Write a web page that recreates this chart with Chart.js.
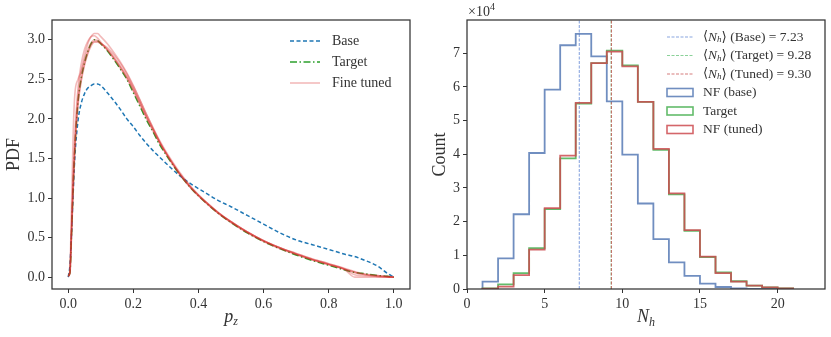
<!DOCTYPE html>
<html>
<head>
<meta charset="utf-8">
<script src="https://cdn.jsdelivr.net/npm/chart.js@4.4.1/dist/chart.umd.min.js"></script>
<style>
html, body { margin: 0; padding: 0; background: #fff; }
#wrap { position: relative; width: 831px; height: 337px; }
canvas { position: absolute; top: 0; }
</style>
</head>
<body>
<div id="wrap">
  <canvas id="pdfChart" width="415" height="337" style="left:0px"></canvas>
  <canvas id="histChart" width="416" height="337" style="left:415px"></canvas>
</div>
<script>
// ---- left panel: PDF of p_z ----
const pz = [0, 0.005, 0.01, 0.015, 0.02, 0.03, 0.04, 0.05, 0.06, 0.07, 0.08, 0.09, 0.1, 0.12, 0.14, 0.16, 0.18, 0.2, 0.22, 0.24,
            0.26, 0.28, 0.3, 0.34, 0.38, 0.42, 0.46, 0.5, 0.55, 0.6, 0.65, 0.7, 0.75, 0.8, 0.85, 0.88, 0.9, 0.95, 0.98, 1.0];
const pdfBase = [0, 0.15, 0.55, 1.05, 1.5, 1.98, 2.2, 2.32, 2.39, 2.42, 2.44, 2.44, 2.42, 2.33, 2.23, 2.12, 2.0, 1.9, 1.79, 1.69,
                 1.6, 1.52, 1.44, 1.29, 1.17, 1.07, 0.97, 0.89, 0.78, 0.67, 0.56, 0.47, 0.41, 0.35, 0.29, 0.26, 0.23, 0.14, 0.05, 0];
const pdfTarget = [0.02, 0.05, 0.55, 1.15, 1.62, 2.22, 2.52, 2.71, 2.85, 2.95, 3.0, 2.99, 2.95, 2.86, 2.75, 2.63, 2.5, 2.33, 2.16, 1.99,
                   1.84, 1.68, 1.55, 1.31, 1.11, 0.95, 0.81, 0.69, 0.56, 0.45, 0.36, 0.28, 0.21, 0.15, 0.09, 0.06, 0.05, 0.02, 0.01, 0];
// several fine tuned runs
const pdfTuned1 = [0.02, 0.08, 0.6, 1.2, 1.7, 2.3, 2.6, 2.8, 2.95, 3.04, 3.08, 3.08, 3.04, 2.95, 2.84, 2.72, 2.58, 2.42, 2.24, 2.06,
                   1.89, 1.73, 1.59, 1.34, 1.13, 0.96, 0.82, 0.7, 0.57, 0.46, 0.37, 0.3, 0.23, 0.17, 0.11, 0.07, 0.05, 0.02, 0.01, 0];
const pdfTuned2 = [0, 0.1, 0.9, 1.8, 2.3, 2.5, 2.6, 2.75, 2.88, 2.96, 3.0, 2.99, 2.96, 2.88, 2.78, 2.66, 2.53, 2.37, 2.2, 2.03,
                   1.87, 1.71, 1.57, 1.32, 1.12, 0.96, 0.82, 0.7, 0.57, 0.46, 0.37, 0.29, 0.22, 0.16, 0.1, 0.06, 0.04, 0.01, 0, 0];
const pdfTuned3 = [0.02, 0.04, 0.5, 1.1, 1.58, 2.2, 2.5, 2.7, 2.84, 2.94, 2.98, 2.98, 2.95, 2.87, 2.77, 2.66, 2.53, 2.38, 2.21, 2.03,
                   1.87, 1.71, 1.57, 1.32, 1.12, 0.96, 0.82, 0.7, 0.57, 0.46, 0.37, 0.29, 0.22, 0.16, 0.09, 0, 0, 0, 0, 0];
const pdfTuned4 = [0.02, 0.05, 0.55, 1.12, 1.6, 2.18, 2.48, 2.68, 2.82, 2.92, 2.97, 2.97, 2.95, 2.9, 2.81, 2.7, 2.57, 2.41, 2.24, 2.06,
                   1.89, 1.72, 1.57, 1.32, 1.11, 0.95, 0.81, 0.7, 0.57, 0.46, 0.37, 0.3, 0.23, 0.17, 0.1, 0.03, 0.02, 0.01, 0, 0];
const pdfTuned5 = [0.01, 0.06, 0.65, 1.3, 1.78, 2.4, 2.7, 2.88, 2.98, 3.04, 3.05, 3.02, 2.97, 2.87, 2.76, 2.64, 2.51, 2.35, 2.18, 2.01,
                   1.85, 1.7, 1.56, 1.31, 1.11, 0.95, 0.81, 0.69, 0.56, 0.45, 0.36, 0.29, 0.22, 0.16, 0.1, 0.06, 0.04, 0.02, 0.01, 0];
const pdfTicksX = [0, 0.2, 0.4, 0.6, 0.8, 1.0];
const pdfTicksY = [0, 0.5, 1.0, 1.5, 2.0, 2.5, 3.0];

// ---- right panel: histogram of N_h ----
const binEdges = [1, 2, 3, 4, 5, 6, 7, 8, 9, 10, 11, 12, 13, 14, 15, 16, 17, 18, 19, 20, 21];
const countsBase = [2200, 9100, 22200, 40400, 59200, 72400, 75800, 69100, 55700, 39900,
                    25400, 14800, 7900, 3900, 1600, 600, 200, 50, 0, 0];
const countsTarget = [200, 1400, 4700, 12100, 23700, 38800, 55100, 67100, 70800, 66400,
                      55600, 41300, 28100, 17300, 9500, 4900, 2300, 1000, 500, 200];
const countsTuned = [100, 700, 4100, 11700, 24000, 39600, 55300, 67100, 70500, 66100,
                     55600, 41600, 28400, 17500, 9600, 4700, 2200, 1000, 500, 200];
const meanBase = 7.23, meanTarget = 9.28, meanTuned = 9.30;
const histTicksX = [0, 5, 10, 15, 20];
const histTicksY = [0, 10000, 20000, 30000, 40000, 50000, 60000, 70000];

const SERIF = '"Liberation Serif", "DejaVu Serif", serif';
const TXT = '#333';

function xy(xs, ys) { return xs.map((x, i) => ({ x: x, y: ys[i] })); }
function stepPoints(edges, counts) {
    const pts = [{ x: edges[0], y: 0 }];
    counts.forEach((c, i) => pts.push({ x: edges[i + 1], y: c }));
    pts.push({ x: edges[edges.length - 1], y: 0 });
    return pts;
}
function fixTicks(list) {
    return function (scale) { scale.ticks = list.map(v => ({ value: v })); };
}
// draw runs of text with different fonts / baseline offsets
function runsWidth(ctx, runs) {
    let w = 0;
    runs.forEach(r => { ctx.font = r[1]; w += ctx.measureText(r[0]).width; });
    return w;
}
function drawRuns(ctx, runs, x, y) {
    runs.forEach(r => {
        ctx.font = r[1];
        ctx.fillText(r[0], x, y + (r[2] || 0));
        x += ctx.measureText(r[0]).width;
    });
}

const framePlugin = {
    id: 'frame',
    afterDatasetsDraw(chart) {
        const a = chart.chartArea, ctx = chart.ctx;
        ctx.save();
        ctx.strokeStyle = '#333';
        ctx.lineWidth = 1.25;
        ctx.strokeRect(a.left, a.top, a.right - a.left, a.bottom - a.top);
        ctx.restore();
    }
};

function legendPlugin(items, x0, y0, rowH, sampleW, textGap) {
    return {
        id: 'customLegend',
        afterDraw(chart) {
            const ctx = chart.ctx;
            ctx.save();
            ctx.textBaseline = 'middle';
            items.forEach((it, i) => {
                const y = y0 + i * rowH;
                ctx.strokeStyle = it.color;
                ctx.lineWidth = it.width;
                ctx.setLineDash(it.dash || []);
                if (it.box) {
                    ctx.strokeRect(x0, y - 4, sampleW, 8);
                } else {
                    ctx.beginPath();
                    ctx.moveTo(x0, y);
                    ctx.lineTo(x0 + sampleW, y);
                    ctx.stroke();
                }
                ctx.setLineDash([]);
                ctx.fillStyle = TXT;
                drawRuns(ctx, it.runs, x0 + sampleW + textGap, y);
            });
            ctx.restore();
        }
    };
}

function axisTitles(xRuns, yText, xTitleY, yTitleX) {
    return {
        id: 'axisTitles',
        afterDraw(chart) {
            const ctx = chart.ctx, a = chart.chartArea;
            ctx.save();
            ctx.fillStyle = TXT;
            ctx.textBaseline = 'alphabetic';
            const w = runsWidth(ctx, xRuns);
            drawRuns(ctx, xRuns, (a.left + a.right) / 2 - w / 2, xTitleY);
            ctx.translate(yTitleX, (a.top + a.bottom) / 2);
            ctx.rotate(-Math.PI / 2);
            ctx.font = '18px ' + SERIF;
            ctx.textAlign = 'center';
            ctx.textBaseline = 'middle';
            ctx.fillText(yText, 0, 0);
            ctx.restore();
        }
    };
}

function axisOpts(min, max, ticks, fmt, fit) {
    return {
        type: 'linear',
        min: min,
        max: max,
        afterBuildTicks: fixTicks(ticks),
        afterFit: fit,
        border: { display: false },
        grid: { drawOnChartArea: false, drawTicks: true, tickLength: 4, tickColor: '#333', tickWidth: 1 },
        ticks: { color: TXT, font: { family: SERIF, size: 14 }, padding: 3, callback: fmt, maxRotation: 0, autoSkip: false }
    };
}

const tunedColor = 'rgba(214,39,40,0.32)';
const tunedSets = [pdfTuned1, pdfTuned2, pdfTuned3, pdfTuned4, pdfTuned5].map((ys, i) => ({
    label: i === 0 ? 'Fine tuned' : '',
    data: xy(pz, ys),
    borderColor: tunedColor,
    borderWidth: 1.6,
    pointRadius: 0,
    order: 1,
    cubicInterpolationMode: 'monotone'
}));

new Chart(document.getElementById('pdfChart'), {
    type: 'line',
    data: {
        datasets: [
            { label: 'Base', data: xy(pz, pdfBase), borderColor: '#1f77b4', borderWidth: 1.5, borderDash: [4, 2.5],
              pointRadius: 0, order: 3, cubicInterpolationMode: 'monotone' },
            { label: 'Target', data: xy(pz, pdfTarget), borderColor: '#2ca02c', borderWidth: 1.5, borderDash: [7, 2.5, 1.5, 2.5],
              pointRadius: 0, order: 2, cubicInterpolationMode: 'monotone' }
        ].concat(tunedSets)
    },
    options: {
        responsive: false,
        animation: false,
        devicePixelRatio: 1,
        layout: { padding: { top: 20, right: 5, left: 0, bottom: 0 } },
        plugins: { legend: { display: false }, tooltip: { enabled: false } },
        scales: {
            x: axisOpts(-0.05, 1.05, pdfTicksX, v => v.toFixed(1), s => { s.height = 48; }),
            y: axisOpts(-0.15, 3.25, pdfTicksY, v => v.toFixed(1), s => { s.width = 52; })
        }
    },
    plugins: [
        framePlugin,
        legendPlugin([
            { color: '#1f77b4', width: 1.5, dash: [4, 2.5], runs: [['Base', '14px ' + SERIF]] },
            { color: '#2ca02c', width: 1.5, dash: [7, 2.5, 1.5, 2.5], runs: [['Target', '14px ' + SERIF]] },
            { color: tunedColor, width: 1.6, runs: [['Fine tuned', '14px ' + SERIF]] }
        ], 290, 41, 21, 30, 12),
        axisTitles([['p', 'italic 18px ' + SERIF], ['z', 'italic 12px ' + SERIF, 3]], 'PDF', 322, 14)
    ]
});

const blueH = 'rgba(76,114,176,0.8)', greenH = 'rgba(70,175,80,0.85)', redH = 'rgba(205,75,80,0.85)';
const blueM = 'rgba(90,130,210,0.7)', greenM = 'rgba(90,190,110,0.7)', redM = 'rgba(200,80,80,0.75)';
function meanLine(m, color, order) {
    return { data: [{ x: m, y: 0 }, { x: m, y: 79900 }], borderColor: color, borderWidth: 1.1,
             borderDash: [3, 1.5], pointRadius: 0, order: order };
}
function hist(edges, counts, color, order) {
    return { data: stepPoints(edges, counts), borderColor: color, borderWidth: 1.8, pointRadius: 0,
             stepped: 'after', order: order };
}
const mathN = (rest) => [['\u27E8', '13px "DejaVu Serif", serif'], ['N', 'italic 13.5px ' + SERIF],
                         ['h', 'italic 9px ' + SERIF, 3], ['\u27E9 ' + rest, '13.5px ' + SERIF]];

new Chart(document.getElementById('histChart'), {
    type: 'line',
    data: {
        datasets: [
            meanLine(meanBase, blueM, 12),
            meanLine(meanTarget, greenM, 11),
            meanLine(meanTuned, redM, 10),
            hist(binEdges, countsBase, blueH, 3),
            hist(binEdges, countsTarget, greenH, 2),
            hist(binEdges, countsTuned, redH, 1)
        ]
    },
    options: {
        responsive: false,
        animation: false,
        devicePixelRatio: 1,
        layout: { padding: { top: 20, right: 6, left: 0, bottom: 0 } },
        plugins: { legend: { display: false }, tooltip: { enabled: false } },
        scales: {
            x: axisOpts(0, 23.05, histTicksX, v => String(v), s => { s.height = 48; }),
            y: axisOpts(0, 79900, histTicksY, v => String(v / 10000), s => { s.width = 52; })
        }
    },
    plugins: [
        framePlugin,
        legendPlugin([
            { color: blueM, width: 1.1, dash: [3, 1.5], runs: mathN('(Base) = ' + meanBase.toFixed(2)) },
            { color: greenM, width: 1.1, dash: [3, 1.5], runs: mathN('(Target) = ' + meanTarget.toFixed(2)) },
            { color: redM, width: 1.1, dash: [3, 1.5], runs: mathN('(Tuned) = ' + meanTuned.toFixed(2)) },
            { color: blueH, width: 1.6, box: true, runs: [['NF (base)', '13.5px ' + SERIF]] },
            { color: greenH, width: 1.6, box: true, runs: [['Target', '13.5px ' + SERIF]] },
            { color: redH, width: 1.6, box: true, runs: [['NF (tuned)', '13.5px ' + SERIF]] }
        ], 252, 37, 18.5, 26, 10),
        axisTitles([['N', 'italic 18px ' + SERIF], ['h', 'italic 12px ' + SERIF, 4]], 'Count', 322, 25),
        {
            id: 'offsetText',
            afterDraw(chart) {
                const ctx = chart.ctx;
                ctx.save();
                ctx.fillStyle = TXT;
                ctx.textBaseline = 'alphabetic';
                drawRuns(ctx, [['\u00D710', '14px ' + SERIF], ['4', '10px ' + SERIF, -6]], 53, 16);
                ctx.restore();
            }
        }
    ]
});
</script>
</body>
</html>
